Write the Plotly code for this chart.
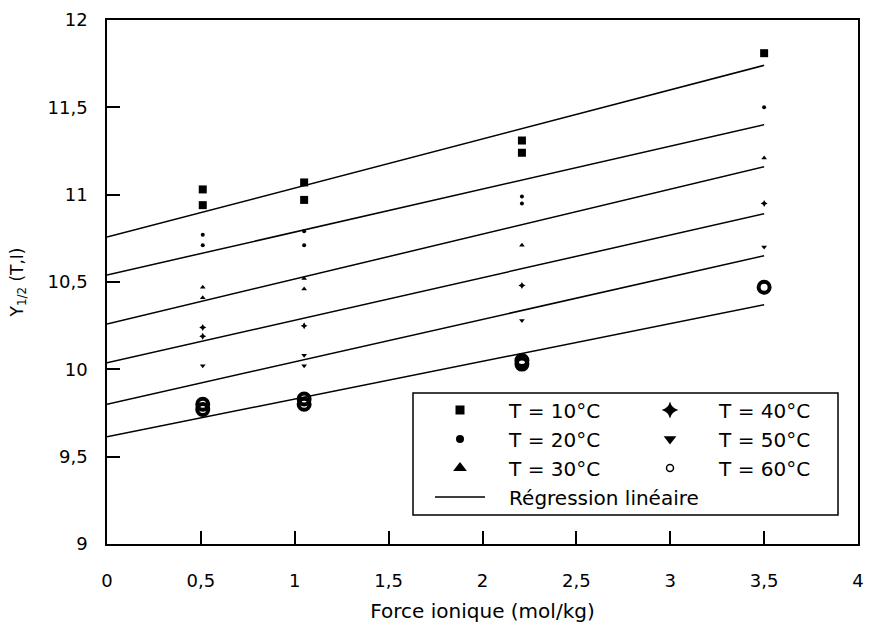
import plotly.graph_objects as go

# Ionic strength (mol/kg) and measured Y1/2 replicates for each temperature
labels = ["T = 10°C", "T = 20°C", "T = 30°C", "T = 40°C", "T = 50°C", "T = 60°C"]

x_10 = [0.51, 0.51, 1.05, 1.05, 2.21, 2.21, 3.5]
y_10 = [11.03, 10.94, 11.07, 10.97, 11.31, 11.24, 11.81]

x_20 = [0.51, 0.51, 1.05, 1.05, 2.21, 2.21, 3.5]
y_20 = [10.77, 10.71, 10.79, 10.71, 10.99, 10.95, 11.50]

x_30 = [0.51, 0.51, 1.05, 1.05, 2.21, 3.5]
y_30 = [10.47, 10.41, 10.52, 10.46, 10.71, 11.21]

x_40 = [0.51, 0.51, 1.05, 2.21, 3.5]
y_40 = [10.24, 10.19, 10.25, 10.48, 10.95]

x_50 = [0.51, 1.05, 1.05, 2.21, 3.5]
y_50 = [10.02, 10.08, 10.02, 10.28, 10.70]

x_60 = [0.51, 0.51, 1.05, 1.05, 2.21, 2.21, 3.5]
y_60 = [9.80, 9.77, 9.83, 9.80, 10.05, 10.03, 10.47]

# Linear regression for each temperature: Y = intercept + slope * I
fit_intercepts = [10.757, 10.54, 10.26, 10.037, 9.80, 9.614]
fit_slopes = [0.281, 0.246, 0.257, 0.244, 0.243, 0.216]
fit_range = [0.0, 3.5]

x_ticks = [0, 0.5, 1, 1.5, 2, 2.5, 3, 3.5, 4]
y_ticks = [9, 9.5, 10, 10.5, 11, 11.5, 12]

series_x = [x_10, x_20, x_30, x_40, x_50, x_60]
series_y = [y_10, y_20, y_30, y_40, y_50, y_60]

FONT = "DejaVu Sans"
PAD = "\u00a0\u00a0\u00a0"

# marker styles on the plot (small, as printed) and in the legend key
plot_markers = [
    dict(symbol="square", size=8, color="black"),
    dict(symbol="circle", size=4, color="black"),
    dict(symbol="triangle-up", size=5, color="black"),
    dict(symbol="star-diamond", size=5, color="black"),
    dict(symbol="triangle-down", size=5, color="black"),
    dict(symbol="circle-open", size=11, color="black", line=dict(width=4, color="black")),
]
key_markers = [
    dict(symbol="square", size=9, color="black"),
    dict(symbol="circle", size=8, color="black"),
    dict(symbol="triangle-up", size=12, color="black"),
    dict(symbol="star-diamond", size=12, color="black"),
    dict(symbol="triangle-down", size=11, color="black"),
    dict(symbol="circle-open", size=7, color="black", line=dict(width=1.5, color="black")),
]
key_legend = ["legend", "legend", "legend", "legend2", "legend2", "legend2"]

fig = go.Figure()

# regression lines
for i, (a, b) in enumerate(zip(fit_intercepts, fit_slopes)):
    fig.add_trace(go.Scatter(
        x=fit_range, y=[a + b * x for x in fit_range],
        mode="lines", line=dict(color="black", width=1.5),
        name=PAD + "Régression linéaire", legendgroup="fit",
        legend="legend", legendrank=4,
        showlegend=(i == 0), hoverinfo="skip",
    ))

# measured points
for i in range(6):
    fig.add_trace(go.Scatter(
        x=series_x[i], y=series_y[i], mode="markers",
        marker=plot_markers[i], name=labels[i],
        legendgroup=labels[i], showlegend=False,
    ))

# legend keys
for i in range(6):
    fig.add_trace(go.Scatter(
        x=[None], y=[None], mode="markers",
        marker=key_markers[i], name=PAD + labels[i],
        legendgroup=labels[i], legend=key_legend[i], legendrank=i + 1,
    ))

axis_common = dict(
    showgrid=False, zeroline=False,
    showline=True, mirror=True, linecolor="black", linewidth=1.5,
    ticks="inside", ticklen=13, tickwidth=1.5, tickcolor="black",
    tickfont=dict(family=FONT, size=18, color="black"),
)

plot_x0, plot_x1 = 107, 858
plot_y0, plot_y1 = 20, 544


def px_x(p):
    return (p - plot_x0) / (plot_x1 - plot_x0)


def px_y(p):
    return (plot_y1 - p) / (plot_y1 - plot_y0)


legend_common = dict(
    orientation="v", xanchor="left", yanchor="top",
    bgcolor="rgba(0,0,0,0)", borderwidth=0, itemwidth=50,
    font=dict(family=FONT, size=20, color="black"),
    traceorder="normal", itemclick=False, itemdoubleclick=False,
)

fig.update_layout(
    width=872, height=634,
    margin=dict(l=plot_x0, r=872 - plot_x1, t=plot_y0, b=634 - plot_y1, autoexpand=False),
    paper_bgcolor="white", plot_bgcolor="white",
    separators=", ",
    font=dict(family=FONT, color="black"),
    xaxis=dict(
        range=[0, 4], tickvals=x_ticks, ticklabelstandoff=20,
        title=dict(text="Force ionique (mol/kg)", font=dict(family=FONT, size=20), standoff=14),
        **axis_common,
    ),
    yaxis=dict(
        range=[9, 12], tickvals=y_ticks, ticklabelstandoff=14,
        title=dict(text="Y<sub>1/2</sub> (T,I)", font=dict(family=FONT, size=17), standoff=20),
        **axis_common,
    ),
    legend=dict(x=px_x(430), y=px_y(390.5), **legend_common),
    legend2=dict(x=px_x(640), y=px_y(390.5), **legend_common),
    shapes=[dict(
        type="rect", xref="paper", yref="paper",
        x0=px_x(413), x1=px_x(838), y0=px_y(515), y1=px_y(393),
        line=dict(color="black", width=1.5), fillcolor="white", layer="above",
    )],
    showlegend=True,
)

fig.write_html("out.html")
